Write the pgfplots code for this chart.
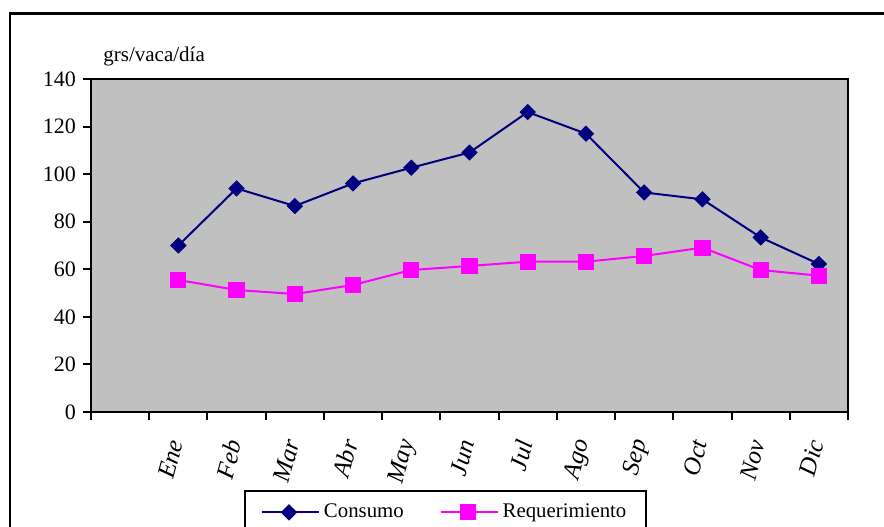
\documentclass[border=0pt]{standalone}
\usepackage{pgfplots}
\pgfplotsset{compat=1.18}
\usepackage{fontspec}
\setmainfont{Liberation Serif}
\definecolor{cnavy}{RGB}{0,0,128}
\definecolor{cmag}{RGB}{255,0,255}
\definecolor{plotgray}{RGB}{192,192,192}
\begin{document}
\begin{tikzpicture}
\useasboundingbox (0pt,0pt) rectangle (442pt,263pt);
\draw[line width=1.3pt] (5pt,-10pt) -- (5pt,256.25pt) -- (460pt,256.25pt);
\node[anchor=base west, inner sep=0pt, font=\fontsize{10.5}{12}\selectfont] at (51.5pt,232pt) {grs/vaca/día};
\begin{axis}[
  at={(45.5pt,57pt)}, anchor=south west,
  scale only axis, width=378.5pt, height=166.5pt,
  xmin=-0.5, xmax=12.5, ymin=0, ymax=140,
  axis background/.style={fill=plotgray},
  axis line style={line width=1pt},
  every tick/.style={line width=1pt, black},
  tick align=outside, major tick length=4pt,
  xtick={-0.5,0.5,...,12.5},
  xticklabels={{},Ene,Feb,Mar,Abr,May,Jun,Jul,Ago,Sep,Oct,Nov,Dic},
  x tick label as interval,
  xticklabel style={yshift=-9pt, xshift=-1pt, rotate=75, anchor=east, font=\fontsize{12.5}{14}\selectfont\itshape, inner sep=1pt},
  ytick={0,20,...,140},
  yticklabel style={font=\fontsize{11}{12}\selectfont},
  /pgf/number format/assume math mode=true,
  xtick pos=bottom, ytick pos=left,
  legend columns=2,
  legend image code/.code={\draw[mark repeat=2,mark phase=2,#1] plot coordinates {(0pt,0pt)(13.5pt,0pt)(27pt,0pt)}; \path (0pt,0pt) -- (28.5pt,0pt);},
  legend style={at={(0.2021,-0.2342)}, anchor=north west, draw=black, line width=1pt, fill=white,
    font=\fontsize{10.4}{12}\selectfont, inner xsep=8pt, inner ysep=4.5pt,
    /tikz/every even column/.append style={column sep=16pt}},
]
\addplot[cnavy, line width=1pt, mark=square*, mark size=2.65pt, mark options={rotate=45, solid, line width=0.5pt}]
  coordinates {(1,70) (2,94) (3,86.6) (4,96.1) (5,102.7) (6,109.1) (7,126.1) (8,117) (9,92.3) (10,89.4) (11,73.4) (12,62.2)};
\addlegendentry{Consumo}
\addplot[cmag, line width=1pt, mark=square*, mark size=3.8pt, mark options={solid, line width=0.5pt}]
  coordinates {(1,55.5) (2,51.3) (3,49.6) (4,53.4) (5,59.7) (6,61.4) (7,63.2) (8,63.2) (9,65.6) (10,69.1) (11,59.7) (12,57.3)};
\addlegendentry{Requerimiento}
\end{axis}
\end{tikzpicture}
\end{document}
